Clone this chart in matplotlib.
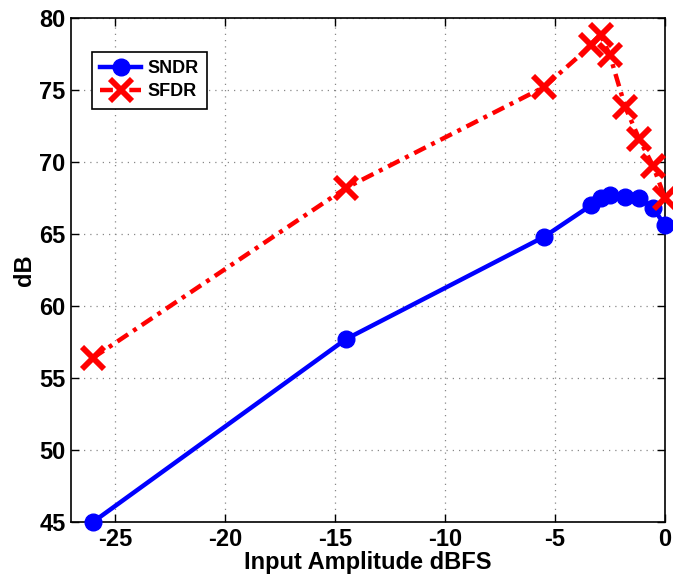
import matplotlib
matplotlib.use("Agg")
import matplotlib.pyplot as plt

# Data
amp_dbfs = [-26.0, -14.5, -5.5, -3.35, -2.92, -2.5, -1.8, -1.17, -0.53, 0.0]
sndr = [45.0, 57.7, 64.8, 67.0, 67.5, 67.7, 67.6, 67.5, 66.8, 65.6]
sfdr = [56.4, 68.2, 75.2, 78.1, 78.8, 77.4, 73.8, 71.6, 69.7, 67.5]

x_ticks = [-25, -20, -15, -10, -5, 0]
y_ticks = [45, 50, 55, 60, 65, 70, 75, 80]

plt.rcParams["font.family"] = ["Liberation Sans", "DejaVu Sans"]
plt.rcParams["font.weight"] = "bold"
plt.rcParams["axes.unicode_minus"] = False

fig = plt.figure(figsize=(6.73, 5.77), dpi=100)
ax = fig.add_axes([0.1055, 0.0953, 0.8825, 0.8735])

ax.plot(amp_dbfs, sndr, color="#0000ff", linestyle="-", linewidth=3.2,
        marker="o", markersize=12, label="SNDR", clip_on=False, zorder=3)
ax.plot(amp_dbfs, sfdr, color="#ff0000", linewidth=3.2,
        dashes=(2.9, 1.4, 0.9, 1.4),
        marker="x", markersize=16, markeredgewidth=4.2, label="SFDR",
        clip_on=False, zorder=3)

ax.set_xlim(-27, 0)
ax.set_ylim(45, 80)
ax.set_xticks(x_ticks)
ax.set_yticks(y_ticks)
ax.tick_params(direction="in", top=True, right=True, labelsize=17,
               length=6, width=1, pad=4)
for lbl in ax.get_xticklabels() + ax.get_yticklabels():
    lbl.set_fontweight("bold")
ax.grid(True, linestyle=(0, (1, 4)), color="#888888", linewidth=0.9)
for s in ax.spines.values():
    s.set_linewidth(1.2)

ax.set_xlabel("Input Amplitude dBFS", fontsize=17, fontweight="bold", labelpad=0)
ax.set_ylabel("dB", fontsize=17, fontweight="bold", labelpad=2)

leg = ax.legend(loc="upper left", bbox_to_anchor=(0.035, 0.9325),
                borderaxespad=0, fancybox=False, edgecolor="black",
                framealpha=1, handlelength=2.3, handletextpad=0.35,
                borderpad=0.45, labelspacing=0.35,
                prop={"weight": "bold", "size": 13})
leg.get_frame().set_linewidth(1.2)

fig.savefig("out.png", dpi=100)
